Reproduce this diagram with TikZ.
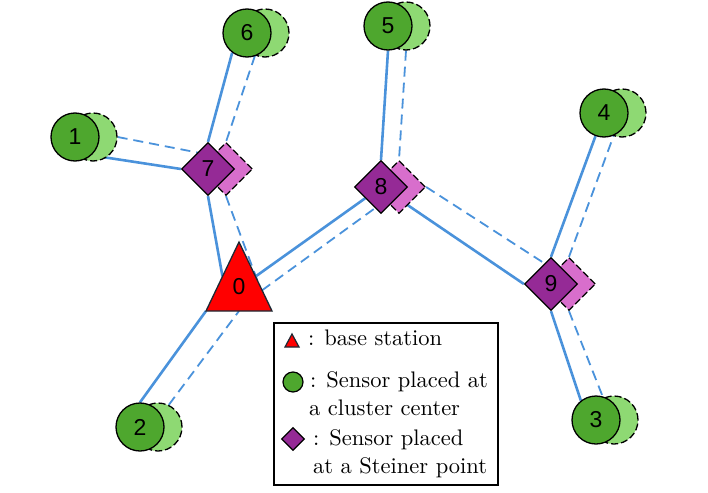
\documentclass[tikz,border=0pt]{standalone}
\usepackage{fontspec}
\newfontfamily\lblfont{Liberation Sans}
\newfontfamily\legfont{lmroman10-regular.otf}
\usetikzlibrary{shapes.geometric,backgrounds,calc}
\definecolor{dgreen}{HTML}{4EA72E}
\definecolor{lgreen}{HTML}{8ED973}
\definecolor{dpurple}{HTML}{952A96}
\definecolor{lpurple}{HTML}{D86ECC}
\definecolor{edgeblue}{HTML}{4A92DB}
\definecolor{tribord}{HTML}{1C2833}
\begin{document}
\begin{tikzpicture}[x=1pt,y=-1pt,
  lbl/.style={font=\lblfont\fontsize{23}{23}\selectfont, inner sep=0pt},
  dcirc/.style={circle, draw=black, line width=1.3pt, fill=dgreen, minimum size=48pt, inner sep=0pt, lbl},
  lcirc/.style={circle, draw=black, line width=1.3pt, dash pattern=on 7pt off 3pt, fill=lgreen, minimum size=48pt, inner sep=0pt},
  ddiam/.style={diamond, draw=black, line width=1.3pt, fill=dpurple, minimum size=53pt, inner sep=0pt, lbl},
  ldiam/.style={diamond, draw=black, line width=1.3pt, dash pattern=on 7pt off 3pt, fill=lpurple, minimum size=53pt, inner sep=0pt},
  solidedge/.style={draw=edgeblue, line width=2.6pt},
  dashedge/.style={draw=edgeblue, line width=1.8pt, dash pattern=on 10pt off 6pt},
  legtext/.style={font=\legfont\fontsize{22.5}{28}\selectfont, inner sep=0pt, anchor=base west}
]
\useasboundingbox (0,0) rectangle (708,492);

% light (shifted) copies
\node[lcirc] (n1l) at (93,137) {};
\node[lcirc] (n6l) at (265,33) {};
\node[lcirc] (n5l) at (406,26) {};
\node[lcirc] (n4l) at (622,113) {};
\node[lcirc] (n2l) at (158,427) {};
\node[lcirc] (n3l) at (614,420) {};
\node[ldiam] (n7l) at (226,169) {};
\node[ldiam] (n8l) at (399,187) {};
\node[ldiam] (n9l) at (569,284) {};

% dark nodes
\node[dcirc] (n1) at (75,137) {1};
\node[dcirc] (n6) at (247,33) {6};
\node[dcirc] (n5) at (388,26) {5};
\node[dcirc] (n4) at (604,113) {4};
\node[dcirc] (n2) at (140,427) {2};
\node[dcirc] (n3) at (596,420) {3};
\node[ddiam] (n7) at (208,169) {7};
\node[ddiam] (n8) at (381,187) {8};
\node[ddiam] (n9) at (551,284) {9};

% base station
\coordinate (t0top) at (239,242);
\coordinate (t0l) at (206,311);
\coordinate (t0r) at (272,311);
\filldraw[fill=red, draw=tribord, line width=1.3pt, line join=miter] (t0top) -- (t0l) -- (t0r) -- cycle;
\node[lbl] (n0) at (239,287) {0};

\begin{pgfonlayer}{background}
  % solid links
  \draw[solidedge] (n6.233) -- (n7.north);
  \draw[solidedge] (n1.-48) -- (n7.west);
  \draw[solidedge] (n7.south) -- ($(t0top)!0.5!(t0l)$);
  \draw[solidedge] ($(t0top)!0.5!(t0r)$) -- (n8);
  \draw[solidedge] (n2.north) -- (t0l);
  \draw[solidedge] (n5.south) -- (n8.north);
  \draw[solidedge] (n8.center) -- (n9.west);
  \draw[solidedge] (n9.north) -- (n4);
  \draw[solidedge] (n9.south) -- (n3.128);
  % dashed links
  \draw[dashedge] (n6l.246) -- (n7l.north);
  \draw[dashedge] (n1l.east) -- (n7l.north west);
  \draw[dashedge] (n7l.south) -- ($(t0top)!0.55!(t0r)$);
  \draw[dashedge] ($(t0top)!0.7!(t0r)$) -- (n8l.south west);
  \draw[dashedge] (n2l.64) -- ($(t0l)!0.5!(t0r)$);
  \draw[dashedge] (n5l.south) -- (n8l.north);
  \draw[dashedge] (n8l.east) -- (n9l.north west);
  \draw[dashedge] (n9l.north) -- (n4l);
  \draw[dashedge] (n9l.south) -- (n3l.116);
\end{pgfonlayer}

% legend
\node[draw=black, line width=1.5pt, fill=white, anchor=north west, minimum width=224pt, minimum height=162pt, inner sep=0pt] (legend) at (273,322) {};
\coordinate (lt0top) at (292,334);
\coordinate (lt0l) at (285,347);
\coordinate (lt0r) at (299,347);
\filldraw[fill=red, draw=tribord, line width=1.2pt] (lt0top) -- (lt0l) -- (lt0r) -- cycle;
\node[circle, draw=black, line width=1.2pt, fill=dgreen, minimum size=20pt, inner sep=0pt] (legc) at (293,382) {};
\node[diamond, draw=black, line width=1.2pt, fill=dpurple, minimum size=23pt, inner sep=0pt] (legd) at (293,439) {};
\node[legtext] (lt1) at (308,345) {: base station};
\node[legtext] (lt2) at (310,387) {: Sensor placed at};
\node[legtext] (lt3) at (309,415) {a cluster center};
\node[legtext] (lt4) at (313,445) {: Sensor placed};
\node[legtext] (lt5) at (313,473) {at a Steiner point};
\end{tikzpicture}
\end{document}
